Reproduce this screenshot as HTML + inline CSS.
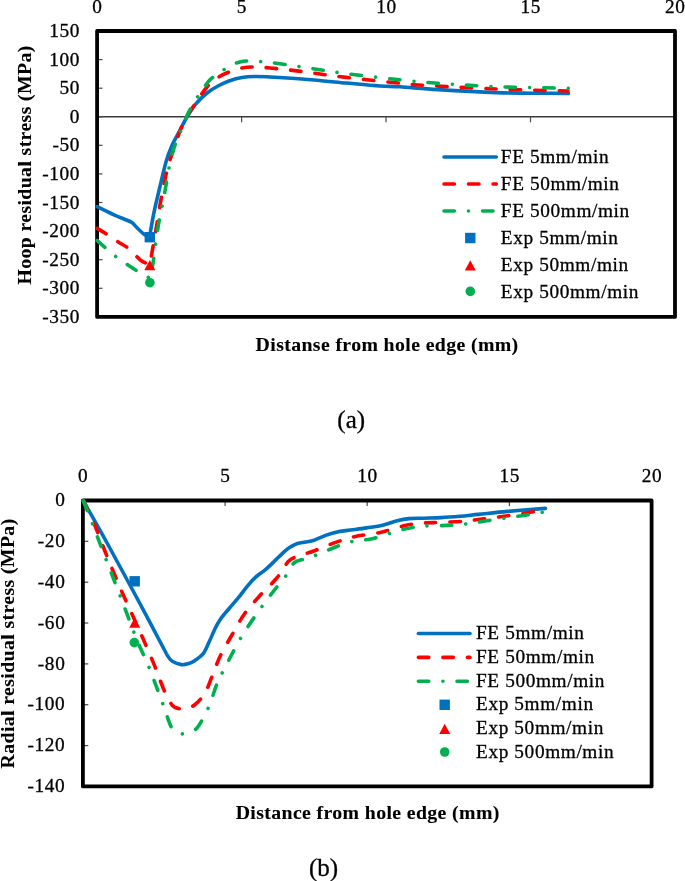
<!DOCTYPE html>
<html lang="en">
<head>
<meta charset="utf-8">
<title>Residual stress charts</title>
<style>
html,body{margin:0;padding:0;background:#fff;}
body{width:685px;height:881px;overflow:hidden;}
svg{display:block;will-change:transform;filter:blur(0.38px);}
text{font-family:"Liberation Serif",serif;fill:#000;stroke:#000;stroke-width:0.3px;}
.t text,.t{font-size:19.3px;letter-spacing:0.62px;}
.b{font-size:19.8px;font-weight:bold;letter-spacing:0.38px;fill:#000;stroke-width:0.1px;}
.c{font-size:25px;}
</style>
</head>
<body>
<svg width="685" height="881" viewBox="0 0 685 881">
<rect width="685" height="881" fill="#fff"/>
<g stroke="#505050" stroke-width="1.25" fill="none">
<line x1="97.1" y1="116.8" x2="675.0" y2="116.8" stroke="#3a3a3a" stroke-width="1.4"/>
<line x1="241.6" y1="116.8" x2="241.6" y2="122.3"/>
<line x1="386.0" y1="116.8" x2="386.0" y2="122.3"/>
<line x1="530.5" y1="116.8" x2="530.5" y2="122.3"/>
<line x1="97.1" y1="288.3" x2="102.5" y2="288.3"/>
<line x1="97.1" y1="259.7" x2="102.5" y2="259.7"/>
<line x1="97.1" y1="231.1" x2="102.5" y2="231.1"/>
<line x1="97.1" y1="202.5" x2="102.5" y2="202.5"/>
<line x1="97.1" y1="173.9" x2="102.5" y2="173.9"/>
<line x1="97.1" y1="145.3" x2="102.5" y2="145.3"/>
<line x1="97.1" y1="116.8" x2="102.5" y2="116.8"/>
<line x1="97.1" y1="88.2" x2="102.5" y2="88.2"/>
<line x1="97.1" y1="59.6" x2="102.5" y2="59.6"/>
</g>
<rect x="97.1" y="31.0" width="577.9" height="285.9" fill="none" stroke="#000" stroke-width="3.8" stroke-linejoin="round"/>
<path d="M97.2 206.6 C100.0 208.0 109.5 212.7 114.0 214.8 C118.5 216.9 121.1 217.8 124.0 219.0 C126.9 220.2 129.3 220.8 131.5 222.3 C133.7 223.8 135.4 226.1 137.3 228.0 C139.2 229.9 141.6 232.3 143.2 233.6 C144.8 234.9 145.9 235.5 147.0 236.0 C148.1 236.5 149.1 236.7 149.5 236.8 L149.5 236.8 C150.3 232.6 152.3 220.3 154.2 211.5 C156.0 202.7 158.6 192.5 160.6 184.0 C162.6 175.5 164.5 167.0 166.4 160.5 C168.3 154.0 170.1 149.8 172.2 145.0 C174.3 140.2 176.5 136.7 179.0 132.0 C181.5 127.3 184.3 121.5 187.0 117.0 C189.7 112.5 191.7 108.8 195.0 104.8 C198.3 100.8 203.2 96.1 207.0 93.0 C210.8 89.9 214.3 88.0 218.0 86.0 C221.7 84.0 225.0 82.4 229.0 81.0 C233.0 79.6 237.7 78.2 242.0 77.5 C246.3 76.8 250.3 76.6 255.0 76.5 C259.7 76.4 262.2 76.6 270.0 77.0 C277.8 77.4 289.3 78.0 302.0 79.0 C314.7 80.0 333.0 81.8 346.0 83.0 C359.0 84.2 371.0 85.4 380.0 86.0 C389.0 86.6 390.3 86.2 400.0 86.8 C409.7 87.4 421.8 88.6 438.0 89.6 C454.2 90.6 480.0 92.0 497.0 92.6 C514.0 93.2 528.1 93.2 540.0 93.3 C551.9 93.4 563.8 93.4 568.5 93.4" fill="none" stroke="#0070C0" stroke-width="3.6" stroke-linecap="round" stroke-linejoin="round"/>
<path d="M97.2 228.4 C98.7 229.3 102.7 231.7 106.0 233.8 C109.3 235.9 113.5 238.9 117.0 241.2 C120.5 243.4 124.5 245.6 127.0 247.3 C129.5 249.0 130.4 250.0 132.0 251.5 C133.6 253.0 135.0 254.7 136.6 256.3 C138.2 257.9 140.1 259.8 141.7 261.0 C143.3 262.2 144.7 262.7 146.0 263.3 C147.3 263.9 149.2 264.6 149.8 264.8 L149.8 264.8 C150.3 262.1 151.5 255.3 152.7 248.4 C153.9 241.5 155.6 232.1 157.0 223.6 C158.4 215.1 159.6 206.6 161.4 197.3 C163.2 188.0 165.6 175.9 167.6 168.0 C169.6 160.1 171.3 156.2 173.4 150.0 C175.5 143.8 177.9 136.3 180.0 131.0 C182.1 125.7 183.5 122.5 186.0 118.0 C188.5 113.5 191.5 109.2 195.0 104.0 C198.5 98.8 203.2 91.4 207.0 87.0 C210.8 82.6 214.3 80.0 218.0 77.5 C221.7 75.0 225.0 73.6 229.0 72.0 C233.0 70.4 238.1 68.8 242.0 68.0 C245.9 67.2 247.8 67.0 252.5 67.0 C257.2 67.0 261.8 67.2 270.0 68.0 C278.2 68.8 289.3 69.9 302.0 71.5 C314.7 73.1 329.7 75.5 346.0 77.4 C362.3 79.4 387.0 81.9 400.0 83.2 C413.0 84.5 407.8 84.3 424.0 85.3 C440.2 86.3 473.0 88.0 497.0 89.0 C521.0 90.0 556.2 90.7 568.0 91.0" fill="none" stroke="#FF0000" stroke-width="3.6" stroke-linecap="round" stroke-linejoin="round" stroke-dasharray="10.4 14.1"/>
<path d="M97.2 240.4 C98.5 241.6 102.1 245.0 105.2 247.7 C108.3 250.4 112.1 253.8 115.7 256.5 C119.3 259.2 123.3 261.8 126.8 264.2 C130.3 266.6 133.9 269.0 136.6 270.6 C139.3 272.2 141.2 273.0 143.0 274.0 C144.8 275.0 146.4 275.7 147.5 276.6 C148.6 277.5 149.4 279.0 149.8 279.5 L149.8 279.5 C150.0 278.1 150.6 273.9 151.2 271.0 C151.8 268.1 152.3 267.5 153.2 262.0 C154.1 256.5 155.3 245.3 156.4 238.0 C157.5 230.7 158.4 224.5 159.6 218.0 C160.8 211.5 161.8 208.7 163.6 199.0 C165.4 189.3 168.3 170.2 170.6 160.0 C172.9 149.8 175.4 143.8 177.6 138.0 C179.8 132.2 181.8 129.1 183.5 125.0 C185.2 120.9 186.1 117.5 188.0 113.5 C189.9 109.5 192.7 104.8 195.0 101.0 C197.3 97.2 199.5 94.2 202.0 90.7 C204.5 87.2 207.1 82.7 210.0 79.8 C212.9 76.9 216.0 75.6 219.3 73.2 C222.6 70.8 226.6 67.4 230.0 65.5 C233.4 63.6 236.7 62.8 240.0 62.0 C243.3 61.2 245.0 60.9 250.0 61.0 C255.0 61.1 261.3 61.5 270.0 62.5 C278.7 63.5 289.3 65.2 302.0 67.0 C314.7 68.8 329.7 71.5 346.0 73.6 C362.3 75.7 384.7 78.2 400.0 79.8 C415.3 81.4 421.8 82.0 438.0 83.2 C454.2 84.4 476.0 85.9 497.0 86.7 C518.0 87.5 552.1 87.9 564.0 88.2 C575.9 88.5 567.8 88.3 568.5 88.3" fill="none" stroke="#00B050" stroke-width="3.6" stroke-linecap="round" stroke-linejoin="round" stroke-dasharray="10.4 14.1 0.01 14.1"/>
<rect x="144.6" y="232.0" width="10.4" height="10.4" fill="#0070C0"/>
<path d="M149.8 260.0 L155.3 270.2 L144.3 270.2 Z" fill="#FF0000"/>
<circle cx="149.9" cy="282.7" r="4.8" fill="#00B050"/>
<g class="t" text-anchor="middle">
<text x="97.4" y="12.6">0</text>
<text x="241.9" y="12.6">5</text>
<text x="386.4" y="12.6">10</text>
<text x="530.8" y="12.6">15</text>
<text x="675.3" y="12.6">20</text>
</g>
<g class="t" text-anchor="end">
<text x="80.1" y="37.0">150</text>
<text x="80.1" y="65.6">100</text>
<text x="80.1" y="94.2">50</text>
<text x="80.1" y="122.8">0</text>
<text x="80.1" y="151.3">-50</text>
<text x="80.1" y="179.9">-100</text>
<text x="80.1" y="208.5">-150</text>
<text x="80.1" y="237.1">-200</text>
<text x="80.1" y="265.7">-250</text>
<text x="80.1" y="294.3">-300</text>
<text x="80.1" y="322.9">-350</text>
</g>
<g fill="none" stroke-width="3.6" stroke-linecap="round">
<path d="M444.0 157.0 H496.3" stroke="#0070C0"/>
<path d="M444.0 184.0 H496.3" stroke="#FF0000" stroke-dasharray="10.4 14.1"/>
<path d="M444.0 211.0 H496.3" stroke="#00B050" stroke-dasharray="10.4 14.1 0.01 14.1"/>
</g>
<rect x="465.1" y="232.8" width="10.4" height="10.4" fill="#0070C0"/>
<path d="M470.3 260.3 L475.8 270.5 L464.8 270.5 Z" fill="#FF0000"/>
<circle cx="470.3" cy="291.4" r="4.8" fill="#00B050"/>
<g class="t">
<text x="500.8" y="162.6">FE 5mm/min</text>
<text x="500.8" y="189.6">FE 50mm/min</text>
<text x="500.8" y="216.6">FE 500mm/min</text>
<text x="500.8" y="243.6">Exp 5mm/min</text>
<text x="500.8" y="270.6">Exp 50mm/min</text>
<text x="500.8" y="297.6">Exp 500mm/min</text>
</g>
<text class="b" text-anchor="middle" x="387.1" y="351">Distanse from hole edge (mm)</text>
<text class="b" text-anchor="middle" transform="translate(31.2 164.9) rotate(-90)">Hoop residual stress (MPa)</text>
<text class="c" text-anchor="middle" x="351.2" y="428">(a)</text>
<g stroke="#505050" stroke-width="1.25" fill="none">
<line x1="225.1" y1="500.5" x2="225.1" y2="506.1"/>
<line x1="367.2" y1="500.5" x2="367.2" y2="506.1"/>
<line x1="509.4" y1="500.5" x2="509.4" y2="506.1"/>
<line x1="82.9" y1="745.6" x2="88.3" y2="745.6"/>
<line x1="82.9" y1="704.7" x2="88.3" y2="704.7"/>
<line x1="82.9" y1="663.9" x2="88.3" y2="663.9"/>
<line x1="82.9" y1="623.0" x2="88.3" y2="623.0"/>
<line x1="82.9" y1="582.2" x2="88.3" y2="582.2"/>
<line x1="82.9" y1="541.3" x2="88.3" y2="541.3"/>
</g>
<rect x="82.9" y="500.5" width="568.7" height="285.9" fill="none" stroke="#000" stroke-width="3.8" stroke-linejoin="round"/>
<path d="M83.4 501.0 C87.3 507.9 97.8 526.2 106.8 542.5 C115.8 558.8 127.6 580.7 137.2 598.5 C146.8 616.3 159.1 639.9 164.2 649.5 C169.3 659.1 166.5 654.0 167.8 656.0 C169.2 658.0 170.0 659.9 172.3 661.3 C174.6 662.7 178.9 664.2 181.5 664.6 C184.1 665.0 185.8 664.4 188.0 663.7 C190.2 663.1 192.0 662.4 194.6 660.7 C197.2 659.0 201.0 656.5 203.4 653.4 C205.8 650.2 207.3 645.9 209.2 641.8 C211.1 637.7 213.1 632.7 215.0 628.8 C216.9 624.9 218.5 622.1 220.9 618.6 C223.3 615.1 226.7 611.5 229.6 608.0 C232.5 604.5 235.5 601.3 238.4 597.7 C241.3 594.1 244.3 589.9 247.2 586.4 C250.1 582.9 253.1 579.5 255.9 576.9 C258.7 574.3 261.3 573.0 264.0 570.8 C266.7 568.6 268.6 566.9 272.0 563.6 C275.4 560.4 281.4 554.2 284.6 551.3 C287.8 548.4 289.2 547.7 291.4 546.4 C293.5 545.1 295.1 544.1 297.5 543.4 C299.9 542.7 302.7 542.5 305.5 542.0 C308.3 541.5 310.8 541.3 314.2 540.2 C317.6 539.1 321.8 536.8 325.6 535.4 C329.4 534.0 333.5 532.8 337.2 532.0 C340.9 531.2 342.7 531.1 347.6 530.4 C352.5 529.7 360.8 528.8 366.6 527.9 C372.4 527.0 377.5 526.4 382.6 525.2 C387.7 524.0 392.8 521.8 397.2 520.7 C401.6 519.6 404.6 519.0 409.0 518.6 C413.4 518.2 418.2 518.4 423.5 518.2 C428.8 518.0 434.9 517.9 441.0 517.6 C447.1 517.3 453.8 516.8 460.0 516.3 C466.2 515.8 470.5 515.2 478.4 514.4 C486.3 513.6 496.4 512.4 507.6 511.4 C518.8 510.4 539.2 508.9 545.5 508.4" fill="none" stroke="#0070C0" stroke-width="3.6" stroke-linecap="round" stroke-linejoin="round"/>
<path d="M83.4 501.0 C85.3 505.0 90.8 515.8 94.7 525.0 C98.6 534.2 102.3 544.7 106.9 556.0 C111.5 567.3 117.2 581.0 122.3 592.7 C127.4 604.4 132.5 614.9 137.6 626.4 C142.7 637.9 148.3 650.6 152.9 661.6 C157.5 672.6 161.7 685.0 165.0 692.3 C168.3 699.6 170.2 702.8 172.5 705.5 C174.8 708.2 176.8 708.1 179.0 708.6 C181.2 709.1 183.4 708.9 186.0 708.3 C188.6 707.7 191.3 707.5 194.5 705.0 C197.7 702.5 201.9 698.2 205.0 693.0 C208.1 687.8 210.4 680.2 213.0 674.0 C215.6 667.8 217.2 662.2 220.5 655.5 C223.8 648.8 228.5 640.9 232.5 634.0 C236.5 627.1 239.8 620.4 244.4 614.0 C249.0 607.6 254.4 601.7 259.8 595.7 C265.2 589.7 272.1 583.7 276.8 578.0 C281.6 572.3 284.9 565.1 288.3 561.5 C291.7 557.9 292.6 558.4 297.0 556.6 C301.4 554.8 308.3 553.0 314.6 550.7 C320.9 548.4 328.4 544.9 335.0 542.6 C341.6 540.3 347.4 538.3 354.4 536.7 C361.4 535.1 371.1 534.3 376.8 533.2 C382.5 532.1 383.6 531.6 388.5 530.3 C393.4 529.0 400.2 526.5 406.0 525.3 C411.8 524.1 417.7 523.5 423.5 523.0 C429.3 522.5 434.3 522.7 441.0 522.4 C447.7 522.1 456.6 521.8 463.8 521.2 C471.0 520.6 476.7 519.7 484.0 518.8 C491.3 517.9 497.8 517.1 507.6 515.7 C517.4 514.3 536.8 511.3 542.6 510.4" fill="none" stroke="#FF0000" stroke-width="3.6" stroke-linecap="round" stroke-linejoin="round" stroke-dasharray="10.4 14.1"/>
<path d="M83.4 501.0 C84.9 504.8 89.0 514.5 92.5 523.7 C96.0 532.9 100.1 544.0 104.7 556.0 C109.3 568.0 114.7 581.7 120.1 595.7 C125.5 609.7 132.2 628.0 137.0 640.0 C141.8 652.0 144.9 657.0 149.2 667.8 C153.5 678.5 159.4 694.7 163.0 704.5 C166.6 714.3 168.7 721.9 171.0 726.5 C173.3 731.1 175.0 731.1 177.0 732.3 C179.0 733.5 181.0 733.9 183.2 733.9 C185.4 733.9 187.6 733.1 190.0 732.0 C192.4 730.9 194.5 731.3 197.5 727.3 C200.5 723.3 204.9 715.4 208.2 708.0 C211.5 700.6 214.8 689.2 217.3 683.0 C219.8 676.8 219.3 678.5 223.3 670.8 C227.3 663.1 235.3 647.2 241.4 637.0 C247.5 626.8 253.9 617.8 259.8 609.5 C265.7 601.2 272.3 592.8 276.8 587.0 C281.3 581.2 283.9 578.7 286.8 574.7 C289.7 570.7 290.8 565.7 294.0 563.0 C297.2 560.3 301.4 560.2 305.8 558.6 C310.2 557.0 315.0 555.7 320.4 553.6 C325.8 551.5 332.3 548.1 338.0 546.0 C343.7 543.9 348.9 542.2 354.4 541.0 C359.9 539.8 365.3 540.2 371.0 539.0 C376.7 537.8 382.7 535.5 388.5 533.8 C394.3 532.1 400.2 530.1 406.0 528.8 C411.8 527.5 416.7 526.8 423.5 526.2 C430.3 525.6 439.7 525.8 446.9 525.4 C454.1 525.0 460.0 524.6 466.7 523.8 C473.4 523.0 480.2 521.8 487.0 520.8 C493.8 519.8 500.8 518.7 507.6 517.7 C514.4 516.7 521.9 515.8 528.0 514.8 C534.1 513.8 541.3 512.5 544.0 512.0" fill="none" stroke="#00B050" stroke-width="3.6" stroke-linecap="round" stroke-linejoin="round" stroke-dasharray="10.4 14.1 0.01 14.1"/>
<rect x="129.5" y="576.1" width="10.4" height="10.4" fill="#0070C0"/>
<path d="M134.7 617.5 L140.2 627.7 L129.2 627.7 Z" fill="#FF0000"/>
<circle cx="134.3" cy="642.6" r="4.8" fill="#00B050"/>
<g class="t" text-anchor="middle">
<text x="83.2" y="482.2">0</text>
<text x="225.4" y="482.2">5</text>
<text x="367.6" y="482.2">10</text>
<text x="509.7" y="482.2">15</text>
<text x="651.9" y="482.2">20</text>
</g>
<g class="t" text-anchor="end">
<text x="65.4" y="506.1">0</text>
<text x="65.4" y="546.9">-20</text>
<text x="65.4" y="587.8">-40</text>
<text x="65.4" y="628.6">-60</text>
<text x="65.4" y="669.5">-80</text>
<text x="65.4" y="710.3">-100</text>
<text x="65.4" y="751.2">-120</text>
<text x="65.4" y="792.0">-140</text>
</g>
<g fill="none" stroke-width="3.6" stroke-linecap="round">
<path d="M418.4 633.5 H470.0" stroke="#0070C0"/>
<path d="M418.4 657.4 H470.0" stroke="#FF0000" stroke-dasharray="10.4 14.1"/>
<path d="M418.4 681.2 H470.0" stroke="#00B050" stroke-dasharray="10.4 14.1 0.01 14.1"/>
</g>
<rect x="439.5" y="699.6" width="10.4" height="10.4" fill="#0070C0"/>
<path d="M444.7 723.8 L450.2 734.0 L439.2 734.0 Z" fill="#FF0000"/>
<circle cx="444.7" cy="752.0" r="4.8" fill="#00B050"/>
<g class="t">
<text x="476.0" y="639.1">FE 5mm/min</text>
<text x="476.0" y="663.0">FE 50mm/min</text>
<text x="476.0" y="686.8">FE 500mm/min</text>
<text x="476.0" y="710.4">Exp 5mm/min</text>
<text x="476.0" y="734.1">Exp 50mm/min</text>
<text x="476.0" y="757.9">Exp 500mm/min</text>
</g>
<text class="b" text-anchor="middle" x="367.7" y="818.5">Distance from hole edge (mm)</text>
<text class="b" text-anchor="middle" transform="translate(13.8 643.4) rotate(-90)">Radial residual stress (MPa)</text>
<text class="c" text-anchor="middle" x="323.6" y="875.5">(b)</text>
</svg>
</body>
</html>
